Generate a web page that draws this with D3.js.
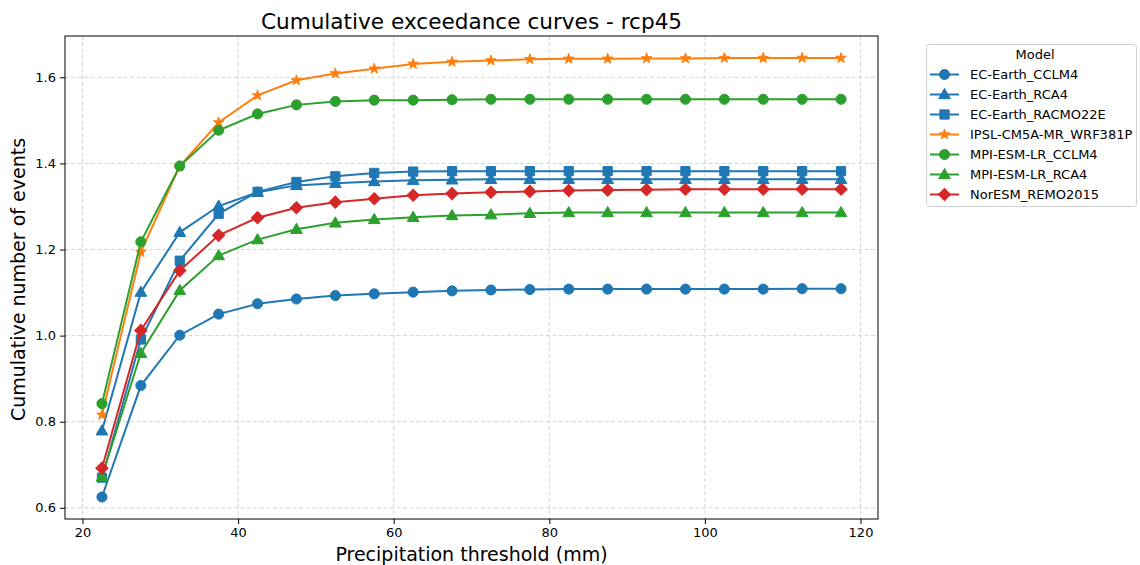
<!DOCTYPE html>
<html>
<head>
<meta charset="utf-8">
<script src="https://cdn.jsdelivr.net/npm/d3@7"></script>
<style>
  body { margin: 0; background: #fff; }
  svg text { font-family: "DejaVu Sans", sans-serif; fill: #000; }
</style>
</head>
<body>
<div id="chart"></div>
<script>
// thresholds (mm)
const thresholds = [22.5, 27.5, 32.5, 37.5, 42.5, 47.5, 52.5, 57.5, 62.5, 67.5,
                    72.5, 77.5, 82.5, 87.5, 92.5, 97.5, 102.5, 107.5, 112.5, 117.5]

const ecEarthCclm4 = [0.625, 0.884, 1.001, 1.050, 1.074, 1.085, 1.093, 1.097, 1.101, 1.104,
                      1.106, 1.107, 1.108, 1.108, 1.108, 1.108, 1.108, 1.108, 1.109, 1.109]
const ecEarthRca4 = [0.779, 1.101, 1.240, 1.301, 1.333, 1.349, 1.354, 1.358, 1.361, 1.362,
                     1.363, 1.363, 1.363, 1.363, 1.363, 1.363, 1.363, 1.363, 1.363, 1.363]
const ecEarthRacmo = [0.670, 0.991, 1.174, 1.283, 1.334, 1.357, 1.370, 1.378, 1.381, 1.382,
                      1.382, 1.382, 1.382, 1.382, 1.382, 1.382, 1.382, 1.382, 1.382, 1.382]
const ipslWrf = [0.816, 1.194, 1.394, 1.495, 1.558, 1.593, 1.609, 1.620, 1.631, 1.636,
                 1.639, 1.642, 1.643, 1.643, 1.644, 1.644, 1.645, 1.645, 1.645, 1.645]
const mpiCclm4 = [0.842, 1.218, 1.394, 1.477, 1.515, 1.536, 1.544, 1.547, 1.547, 1.548,
                  1.549, 1.549, 1.549, 1.549, 1.549, 1.549, 1.549, 1.549, 1.549, 1.549]
const mpiRca4 = [0.672, 0.959, 1.105, 1.186, 1.223, 1.247, 1.262, 1.270, 1.275, 1.279,
                 1.281, 1.284, 1.286, 1.286, 1.286, 1.286, 1.286, 1.286, 1.286, 1.286]
const norEsmRemo = [0.692, 1.012, 1.151, 1.233, 1.274, 1.297, 1.310, 1.318, 1.326, 1.330,
                    1.333, 1.335, 1.337, 1.338, 1.339, 1.340, 1.340, 1.340, 1.340, 1.340]

const modelNames = ['EC-Earth_CCLM4', 'EC-Earth_RCA4', 'EC-Earth_RACMO22E', 'IPSL-CM5A-MR_WRF381P',
                    'MPI-ESM-LR_CCLM4', 'MPI-ESM-LR_RCA4', 'NorESM_REMO2015']
const modelValues = [ecEarthCclm4, ecEarthRca4, ecEarthRacmo, ipslWrf, mpiCclm4, mpiRca4, norEsmRemo]
const modelColors = ['#1f77b4', '#1f77b4', '#1f77b4', '#ff7f0e', '#2ca02c', '#2ca02c', '#d62728']
const modelMarkers = ['circle', 'triangle', 'square', 'star', 'circle', 'triangle', 'diamond']

const xTicks = [20, 40, 60, 80, 100, 120]
const yTicks = [0.6, 0.8, 1.0, 1.2, 1.4, 1.6]

const params = {
  fullWidth: 1140,
  fullHeight: 565,
  left: 65,
  top: 36,
  right: 878,
  bottom: 519
}

const svg = d3.select('#chart').append('svg')
  .attr('width', params.fullWidth)
  .attr('height', params.fullHeight)

// matplotlib-like 5% margins
function padded(lo, hi) {
  const m = (hi - lo) * 0.05
  return [lo - m, hi + m]
}
const allY = modelValues.flat()
const x = d3.scaleLinear()
  .domain(padded(d3.min(thresholds), d3.max(thresholds)))
  .range([params.left, params.right])
const y = d3.scaleLinear()
  .domain(padded(d3.min(allY), d3.max(allY)))
  .range([params.bottom, params.top])

// grid
const grid = svg.append('g').attr('class', 'grid')
grid.selectAll('line.gx').data(xTicks).enter().append('line')
  .attr('x1', d => x(d)).attr('x2', d => x(d))
  .attr('y1', params.top).attr('y2', params.bottom)
grid.selectAll('line.gy').data(yTicks).enter().append('line')
  .attr('x1', params.left).attr('x2', params.right)
  .attr('y1', d => y(d)).attr('y2', d => y(d))
grid.selectAll('line')
  .attr('stroke', '#d4d4d4')
  .attr('stroke-width', 1)
  .attr('stroke-dasharray', '4,2.5')

// axes
const xAxisCall = d3.axisBottom(x).tickValues(xTicks).tickFormat(d3.format('d')).tickSizeOuter(0).tickSize(5).tickPadding(4)
const yAxisCall = d3.axisLeft(y).tickValues(yTicks).tickFormat(d3.format('.1f')).tickSizeOuter(0).tickSize(5).tickPadding(4)
const xAxisGroup = svg.append('g').attr('transform', `translate(0, ${params.bottom})`).call(xAxisCall)
const yAxisGroup = svg.append('g').attr('transform', `translate(${params.left}, 0)`).call(yAxisCall)
for (const ag of [xAxisGroup, yAxisGroup]) {
  ag.select('.domain').remove()
  ag.selectAll('.tick line').attr('stroke', '#000').attr('stroke-width', 1)
  ag.selectAll('.tick text').attr('font-size', '13px').attr('font-family', 'DejaVu Sans, sans-serif')
}

// series
const markerPath = {
  circle: d3.symbol().type(d3.symbolCircle).size(80)(),
  triangle: d3.symbol().type(d3.symbolTriangle).size(60)(),
  square: d3.symbol().type(d3.symbolSquare).size(85)(),
  star: d3.symbol().type(d3.symbolStar).size(34)(),
  diamond: d3.symbol().type(d3.symbolSquare).size(75)()
}
function markerTransform(kind, px, py) {
  const r = kind === 'diamond' ? ' rotate(45)' : ''
  const dy = kind === 'triangle' ? 0.8 : 0
  return `translate(${px},${py + dy})${r}`
}

const line = d3.line()
  .x(d => x(d.t))
  .y(d => y(d.v))

const plot = svg.append('g')
modelNames.forEach((name, i) => {
  const pts = thresholds.map((t, j) => ({ t: t, v: modelValues[i][j] }))
  const g = plot.append('g')
  g.append('path')
    .datum(pts)
    .attr('fill', 'none')
    .attr('stroke', modelColors[i])
    .attr('stroke-width', 2)
    .attr('d', line)
  g.selectAll('path.mk').data(pts).enter().append('path')
    .attr('class', 'mk')
    .attr('d', markerPath[modelMarkers[i]])
    .attr('transform', d => markerTransform(modelMarkers[i], x(d.t), y(d.v)))
    .attr('fill', modelColors[i])
    .attr('stroke', modelColors[i])
    .attr('stroke-width', 1)
})

// frame
svg.append('rect')
  .attr('x', params.left).attr('y', params.top)
  .attr('width', params.right - params.left)
  .attr('height', params.bottom - params.top)
  .attr('fill', 'none')
  .attr('stroke', '#000')
  .attr('stroke-width', 1)

// titles
svg.append('text')
  .attr('x', (params.left + params.right) / 2)
  .attr('y', 29)
  .attr('text-anchor', 'middle')
  .attr('font-size', '21.6px')
  .text('Cumulative exceedance curves - rcp45')
svg.append('text')
  .attr('x', (params.left + params.right) / 2)
  .attr('y', 561)
  .attr('text-anchor', 'middle')
  .attr('font-size', '19px')
  .text('Precipitation threshold (mm)')
svg.append('text')
  .attr('transform', `translate(25, ${(params.top + params.bottom) / 2 + 2}) rotate(-90)`)
  .attr('text-anchor', 'middle')
  .attr('font-size', '19px')
  .text('Cumulative number of events')

// legend
const legend = svg.append('g')
legend.append('rect')
  .attr('x', 926.5).attr('y', 44.5)
  .attr('width', 210).attr('height', 162)
  .attr('rx', 3)
  .attr('fill', '#fff')
  .attr('stroke', '#d0d0d0')
legend.append('text')
  .attr('x', 1035).attr('y', 59)
  .attr('text-anchor', 'middle')
  .attr('font-size', '13px')
  .text('Model')
modelNames.forEach((name, i) => {
  const ly = 74.5 + i * 20
  legend.append('line')
    .attr('x1', 930).attr('x2', 959)
    .attr('y1', ly).attr('y2', ly)
    .attr('stroke', modelColors[i]).attr('stroke-width', 2)
  legend.append('path')
    .attr('d', markerPath[modelMarkers[i]])
    .attr('transform', markerTransform(modelMarkers[i], 944.5, ly))
    .attr('fill', modelColors[i])
    .attr('stroke', modelColors[i])
  legend.append('text')
    .attr('x', 970).attr('y', ly + 4.5)
    .attr('font-size', '13px')
    .text(name)
})
</script>
</body>
</html>
